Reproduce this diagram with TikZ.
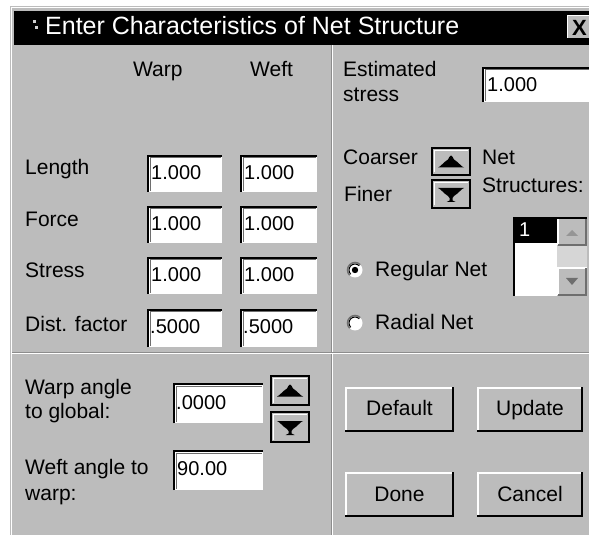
\documentclass[tikz,border=0pt]{standalone}
\usepackage{fontspec}
\setmainfont{Liberation Sans}
\definecolor{dlgface}{RGB}{188,188,188}
\definecolor{dlgshade}{RGB}{110,110,110}
\definecolor{dlgtrack}{RGB}{214,214,214}

% sunken edit field: x1 y1 x2 y2
\newcommand\dlgedit[4]{%
  \fill[white] (#1,#2) rectangle (#3,#4);
  \draw[dlgshade, line width=1pt] (#1+3,#4-1) -- (#1+3,#2+3) -- (#3-1,#2+3);
  \draw[black, line width=2.4pt] (#1+1.2,#4) -- (#1+1.2,#2+1.2) -- (#3,#2+1.2);
}
% raised push button
\newcommand\dlgbutton[4]{%
  \fill[dlgface] (#1,#2) rectangle (#3,#4);
  \draw[white, line width=2pt] (#1+1,#4-1) -- (#1+1,#2+1) -- (#3-1,#2+1);
  \draw[black, line width=2.4pt] (#1,#4-1.2) -- (#3-1.2,#4-1.2) -- (#3-1.2,#2);
}
% spin buttons with up / down glyphs
\newcommand\dlgspinframe[4]{%
  \fill[dlgface] (#1,#2) rectangle (#3,#4);
  \draw[white, line width=1.5pt] (#1+2.5,#4-2.5) -- (#1+2.5,#2+2.5) -- (#3-2.5,#2+2.5);
  \draw[black, line width=1.8pt] (#1,#2) rectangle (#3,#4);
}
\newcommand\dlgspinup[4]{%
  \dlgspinframe{#1}{#2}{#3}{#4}
  \fill[black] ({(#1+#3)/2-13},{(#2+#4)/2+6}) -- ++(26,0)
     .. controls +(-3,-1) and +(5,3) .. ++(-10,-8)
     .. controls +(-2,-2) and +(2,0) .. ++(-3,-4)
     .. controls +(-2,0) and +(2,-2) .. ++(-3,4)
     .. controls +(-5,3) and +(3,-1) .. cycle;
}
\newcommand\dlgspindown[4]{%
  \dlgspinframe{#1}{#2}{#3}{#4}
  \fill[black] ({(#1+#3)/2-13},{(#2+#4)/2-6}) -- ++(26,0)
     .. controls +(-3,1) and +(5,-3) .. ++(-10,8)
     -- ++(-1.5,2) -- ++(0,2.5) -- ++(3,1.5) -- ++(-9,0) -- ++(3,-1.5) -- ++(0,-2.5)
     -- ++(-1.5,-2)
     .. controls +(-5,-3) and +(3,1) .. cycle;
}
% radio button, #3 = 1 for selected
\newcommand\dlgradio[3]{%
  \fill[white] (#1,#2) circle (7.5);
  \draw[dlgshade, line width=1.5pt] (#1,#2) ++(135:7.5) arc (135:315:7.5);
  \draw[black, line width=1pt] (#1,#2) ++(135:6) arc (135:315:6);
  \ifnum#3=1 \fill[black] (#1,#2) circle (3.2);\fi
}

\begin{document}
\begin{tikzpicture}[x=1pt,y=-1pt,
  lbl/.style={anchor=base west, inner sep=0pt, font=\fontsize{21}{24}\selectfont},
  val/.style={anchor=base west, inner sep=0pt, font=\fontsize{20}{23}\selectfont},
  btntxt/.style={anchor=base, inner sep=0pt, font=\fontsize{21}{24}\selectfont},
]
\useasboundingbox (0,0) rectangle (589,537);
\fill[white] (0,0) rectangle (589,537);

% dialog body and caption
\fill[dlgface] (10,6) rectangle (589,535);
\draw[white, line width=1pt] (11.5,535) -- (11.5,7.5) -- (589,7.5);
\fill[black] (14,11) rectangle (589,45);
\fill[dlgface!70!white] (33,20) rectangle (36,23);
\fill[dlgface!70!white] (35,26) rectangle (38,29);
\node[anchor=base west, inner sep=0pt, text=white, font=\fontsize{25}{28}\selectfont]
  (caption) at (45,35) {Enter Characteristics of Net Structure};
\fill[dlgface] (567,15) rectangle (589,38);
\draw[white, line width=1pt] (567.5,38) -- (567.5,15.5) -- (589,15.5);
\node[anchor=base west, inner sep=0pt, font=\fontsize{22}{24}\selectfont\bfseries]
  (closex) at (572,36) {X};

% group dividers
\draw[dlgshade!60!dlgface, line width=1pt] (331,45) -- (331,535);
\draw[white, line width=1.2pt] (332.5,45) -- (332.5,535);
\draw[dlgshade!60!dlgface, line width=1pt] (12,352) -- (589,352);
\draw[white, line width=1.2pt] (12,353.5) -- (589,353.5);

% warp / weft table
\node[lbl] (hwarp) at (133,77) {Warp};
\node[lbl] (hweft) at (250,77) {Weft};

\node[lbl] (llength) at (25,175) {Length};
\dlgedit{147}{155}{222}{192}
\dlgedit{240}{155}{317}{192}
\node[val] (vlengtha) at (151,180) {1.000};
\node[val] (vlengthb) at (244,180) {1.000};

\node[lbl] (lforce) at (25,227) {Force};
\dlgedit{147}{206}{222}{243}
\dlgedit{240}{206}{317}{243}
\node[val] (vforcea) at (151,231) {1.000};
\node[val] (vforceb) at (244,231) {1.000};

\node[lbl] (lstress) at (25,278) {Stress};
\dlgedit{147}{257}{222}{294}
\dlgedit{240}{257}{317}{294}
\node[val] (vstressa) at (151,282) {1.000};
\node[val] (vstressb) at (244,282) {1.000};

\node[lbl] (ldist) at (25,331) {Dist. factor};
\dlgedit{147}{309}{222}{347}
\dlgedit{240}{309}{317}{347}
\node[val] (vdista) at (150,334) {.5000};
\node[val] (vdistb) at (243,334) {.5000};

% angles
\node[lbl] (lwarpang) at (25,394) {Warp angle};
\node[lbl] (lwarpang2) at (25,418) {to global:};
\dlgedit{173}{383}{263}{423}
\node[val] (vwarpang) at (176,409) {.0000};
\dlgspinup{271}{376}{309}{405}
\dlgspindown{271}{412}{309}{442}

\node[lbl] (lweftang) at (25,474) {Weft angle to};
\node[lbl] (lweftang2) at (25,500) {warp:};
\dlgedit{173}{450}{263}{490}
\node[val] (vweftang) at (177,475) {90.00};

% estimated stress
\node[lbl] (lest) at (343,77) {Estimated};
\node[lbl] (lest2) at (343,102) {stress};
\dlgedit{482}{67}{592}{102}
\node[val] (vest) at (487,92) {1.000};

% net structure selection
\node[lbl] (lcoarser) at (343,165) {Coarser};
\node[lbl] (lfiner) at (344,202) {Finer};
\dlgspinup{432}{148}{470}{175}
\dlgspindown{432}{180}{470}{208}
\node[lbl] (lnet) at (482,165) {Net};
\node[lbl] (lnet2) at (482,193) {Structures:};

% list box with scroll bar
\fill[white] (513,217) rectangle (557,296);
\fill[black] (513,217) rectangle (557,243);
\node[val, text=white] (vlist) at (519,237) {1};
\fill[dlgface] (557,217) rectangle (587,296);
\fill[dlgtrack] (557,246) rectangle (587,267);
\draw[white, line width=1.2pt] (558,245) -- (558,218) -- (587,218);
\draw[dlgshade, line width=1.5pt] (558,245) -- (586,245) -- (586,218);
\fill[dlgshade!50!dlgface] (566,236) -- (578,236) -- (572,230) -- cycle;
\draw[white, line width=1.2pt] (558,295) -- (558,268) -- (587,268);
\draw[dlgshade, line width=1.5pt] (558,295) -- (586,295) -- (586,268);
\fill[dlgshade] (566,278) -- (578,278) -- (572,285) -- cycle;
\draw[black, line width=2.4pt] (514.2,296) -- (514.2,218.2) -- (587,218.2);

% net type radio buttons
\dlgradio{355}{270}{1}
\node[lbl] (lregular) at (375,277) {Regular Net};
\dlgradio{355}{323}{0}
\node[lbl] (lradial) at (375,330) {Radial Net};

% command buttons
\dlgbutton{345}{387}{454}{432}
\node[btntxt] (bdefault) at (399.5,415) {Default};
\dlgbutton{477}{387}{583}{432}
\node[btntxt] (bupdate) at (530,415) {Update};
\dlgbutton{345}{472}{454}{517}
\node[btntxt] (bdone) at (399.5,501) {Done};
\dlgbutton{477}{472}{583}{517}
\node[btntxt] (bcancel) at (530,501) {Cancel};
\end{tikzpicture}
\end{document}
